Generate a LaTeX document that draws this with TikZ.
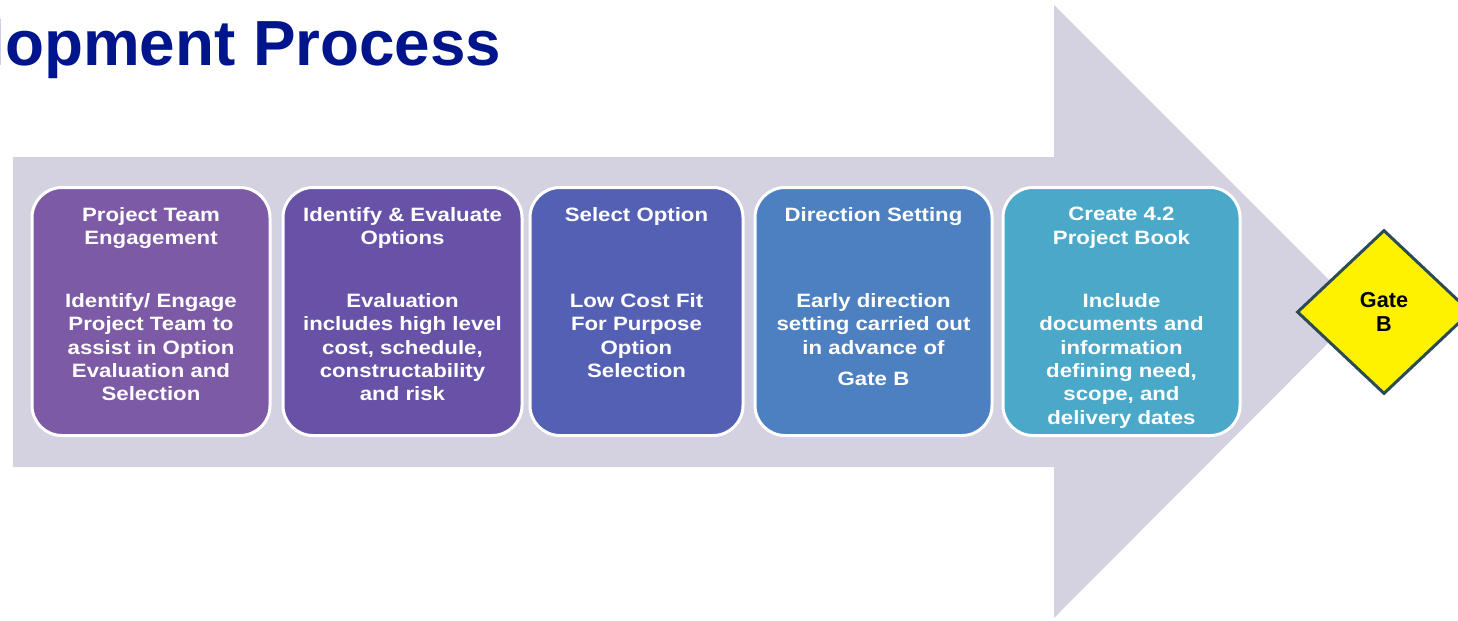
\documentclass[tikz,border=0pt]{standalone}
\usepackage{fontspec}
\setmainfont{Liberation Sans}
\newfontfamily\stagefont[FakeStretch=1.15]{Liberation Sans}
\usepackage{xcolor}
\usepackage{tikz}
\usetikzlibrary{positioning,shapes.geometric}

\newlength\pxu
\setlength\pxu{0.02cm}

\definecolor{arrowgray}{RGB}{212,209,224}
\definecolor{stageA}{RGB}{125,90,165}
\definecolor{stageB}{RGB}{103,82,168}
\definecolor{stageC}{RGB}{84,96,180}
\definecolor{stageD}{RGB}{76,128,192}
\definecolor{stageE}{RGB}{74,168,200}
\definecolor{titleblue}{RGB}{0,20,140}
\definecolor{gateline}{RGB}{45,75,85}

\begin{document}
\begin{tikzpicture}[x=0.02cm, y=-0.02cm,
                    stage/.style n args={2}{fill=#1,draw=white,
                    line width=3\pxu,
                    minimum width=#2\pxu,
                    minimum height=248\pxu,
                    rounded corners=30\pxu,
                    inner sep=0pt,rectangle},
                    head/.style={text=white,align=center,inner sep=0pt,
                    font=\stagefont\bfseries\fontsize{11}{13.3}\selectfont},
                    gate/.style={diamond,fill=yellow,draw=gateline,
                    line width=3\pxu,
                    minimum width=174\pxu,minimum height=164\pxu,
                    inner sep=0pt,align=center,
                    font=\bfseries\fontsize{12.3}{14}\selectfont}]
    \useasboundingbox (0,0) rectangle (1458,620);

    % big background arrow
    \fill[arrowgray] (13,157) -- (1054,157) -- (1054,5) -- (1360,311)
                     -- (1054,618) -- (1054,467) -- (13,467) -- cycle;

    \node[anchor=base west,inner sep=0pt,text=titleblue,
          font=\bfseries\fontsize{36.3}{40}\selectfont] (title) at (-13,65) {lopment Process};

    \node[stage={stageA}{238}](n1) at (151,311.5) {};
    \node[head,below=21\pxu of n1.north](h1) {Project Team\\Engagement};
    \node[head,below=107\pxu of n1.north](b1) {Identify/ Engage\\Project Team to\\assist in Option\\Evaluation and\\Selection};

    \node[stage={stageB}{239}](n2) at (402.5,311.5) {};
    \node[head,below=21\pxu of n2.north](h2) {Identify \& Evaluate\\Options};
    \node[head,below=107\pxu of n2.north](b2) {Evaluation\\includes high level\\cost, schedule,\\constructability\\and risk};

    \node[stage={stageC}{213}](n3) at (636.5,311.5) {};
    \node[head,below=21\pxu of n3.north](h3) {Select Option};
    \node[head,below=107\pxu of n3.north](b3) {Low Cost Fit\\For Purpose\\Option\\Selection};

    \node[stage={stageD}{237}](n4) at (873.5,311.5) {};
    \node[head,below=21\pxu of n4.north](h4) {Direction Setting};
    \node[head,below=107\pxu of n4.north](b4) {Early direction\\setting carried out\\in advance of\\[4.5pt]Gate B};

    \node[stage={stageE}{237}](n5) at (1121.5,311.5) {};
    \node[head,below=21\pxu of n5.north](h5) {Create 4.2\\Project Book};
    \node[head,below=107\pxu of n5.north](b5) {Include\\documents and\\information\\defining need,\\scope, and\\delivery dates};

    \node[gate](gateB) at (1384,312) {Gate\\B};

\end{tikzpicture}
\end{document}
